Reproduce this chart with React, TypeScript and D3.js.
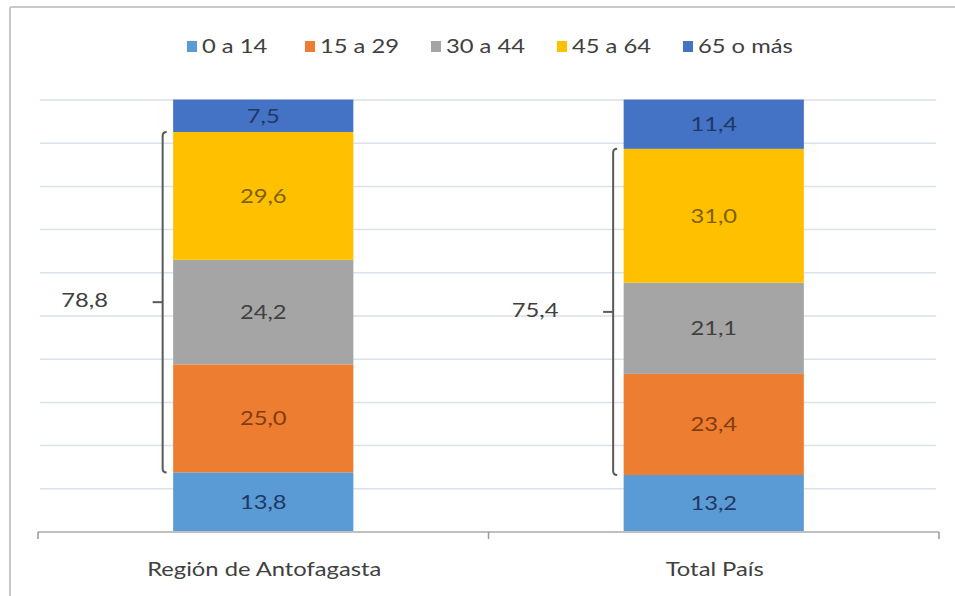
import React from "react";
import * as d3 from "d3";

const categories = ["Región de Antofagasta", "Total País"];
const seriesNames = ["0 a 14", "15 a 29", "30 a 44", "45 a 64", "65 o más"];
const seriesColors = ["#5b9bd5", "#ed7d31", "#a5a5a5", "#ffc000", "#4472c4"];
const labelColors = ["#1f3864", "#843c0c", "#404040", "#7f6000", "#1f3864"];
const values = [
  [13.8, 25.0, 24.2, 29.6, 7.5],
  [13.2, 23.4, 21.1, 31.0, 11.4],
];
const bracketTotals = [78.8, 75.4];
const gridTicks = [0, 10, 20, 30, 40, 50, 60, 70, 80, 90, 100];

const W = 955;
const H = 596;
const FONT = "Lato, 'Open Sans', sans-serif";
const SX = 1.25;

function T(props: { x: number; y: number; anchor?: string; size?: number; fill?: string; children: any }) {
  const { x, y, anchor = "start", size = 19, fill = "#404040", children } = props;
  return (
    <text
      transform={`translate(${x},${y}) scale(${SX},1)`}
      textAnchor={anchor}
      fontSize={size}
      fill={fill}
      fontFamily={FONT}
    >
      {children}
    </text>
  );
}

export default function App() {
  const x = d3.scaleBand<string>().domain(categories).range([38, 939]).paddingInner(0.6).paddingOuter(0.3);
  const y = d3.scaleLinear().domain([0, 100]).range([532, 100]);
  const fmt = (v: number) => v.toFixed(1).replace(".", ",");

  const stacks = values.map((row) => {
    let acc = 0;
    return row.map((v) => {
      const s = { y0: acc, y1: acc + v, v };
      acc += v;
      return s;
    });
  });

  const legendX = [187, 305, 431, 557, 683];

  return (
    <div style={{ position: "absolute", left: 0, top: 0 }}>
      <svg width={W} height={H} style={{ display: "block" }}>
        <rect x={0} y={0} width={W} height={H} fill="#fff" />
        {/* frame */}
        <line x1={10} x2={W} y1={7} y2={7} stroke="#c8c8c8" strokeWidth={2} />
        <line x1={10} x2={10} y1={7} y2={H} stroke="#c8c8c8" strokeWidth={2} />

        {/* legend */}
        {seriesNames.map((n, i) => (
          <g key={n}>
            <rect x={legendX[i]} y={41} width={10} height={11} fill={seriesColors[i]} />
            <T x={legendX[i] + 15} y={53}>{n}</T>
          </g>
        ))}

        {/* gridlines */}
        {gridTicks.slice(1).map((t) => (
          <line key={t} x1={40} x2={936} y1={y(t)} y2={y(t)} stroke="#d9e1ea" strokeWidth={1.5} />
        ))}

        {/* bars */}
        {categories.map((c, ci) => (
          <g key={c}>
            {stacks[ci].map((s, si) => (
              <rect
                key={si}
                x={x(c)!}
                width={x.bandwidth()}
                y={y(s.y1)}
                height={y(s.y0) - y(s.y1)}
                fill={seriesColors[si]}
              />
            ))}
            {stacks[ci].map((s, si) => (
              <T
                key={"t" + si}
                x={x(c)! + x.bandwidth() / 2}
                y={(y(s.y0) + y(s.y1)) / 2 + 7}
                anchor="middle"
                fill={labelColors[si]}
              >
                {fmt(s.v)}
              </T>
            ))}
          </g>
        ))}

        {/* brackets */}
        {categories.map((c, ci) => {
          const top = y(stacks[ci][3].y1);
          const bot = y(stacks[ci][1].y0);
          const bx = x(c)! - 10.5;
          const mid = (top + bot) / 2;
          const path = `M${bx + 4},${top} Q${bx},${top} ${bx},${top + 4} L${bx},${bot - 4} Q${bx},${bot} ${bx + 4},${bot}`;
          return (
            <g key={"b" + c}>
              <path d={path} fill="none" stroke="#595959" strokeWidth={2} />
              <line x1={bx - 10} x2={bx} y1={mid} y2={mid} stroke="#595959" strokeWidth={2} />
              <T x={bx - 78} y={mid + 5} anchor="middle">
                {fmt(bracketTotals[ci])}
              </T>
            </g>
          );
        })}

        {/* x axis */}
        <line x1={38} x2={939} y1={532} y2={532} stroke="#bfbfbf" strokeWidth={2} />
        {[38, 488.5, 939].map((tx) => (
          <line key={tx} x1={tx} x2={tx} y1={532} y2={539} stroke="#9a9a9a" strokeWidth={1.5} />
        ))}
        {categories.map((c) => (
          <T key={"l" + c} x={x(c)! + x.bandwidth() / 2 + 1} y={576} anchor="middle">
            {c}
          </T>
        ))}
      </svg>
    </div>
  );
}
